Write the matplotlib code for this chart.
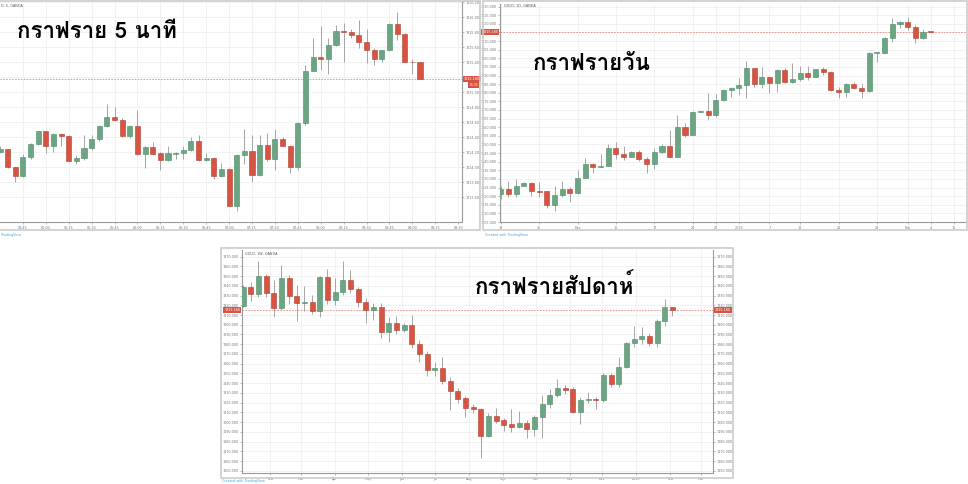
import numpy as np
import pandas as pd
import matplotlib
matplotlib.use('Agg')
from matplotlib import pyplot as plt
from matplotlib import font_manager as fm
from matplotlib.ft2font import FT2Font
from matplotlib.patches import Rectangle
from matplotlib.transforms import blended_transform_factory

# ---- 5 minute chart (GOLD, 5, OANDA) ----
m5_start = '2019-02-05 04:30'
m5_open = [1314.21, 1314.24, 1314.00, 1313.88, 1314.14, 1314.31, 1314.48, 1314.28, 1314.45, 1314.42,
           1314.08, 1314.13, 1314.26, 1314.38, 1314.55, 1314.67, 1314.63, 1314.42, 1314.55, 1314.18,
           1314.27, 1314.19, 1314.10, 1314.18, 1314.19, 1314.23, 1314.35, 1314.10, 1314.13, 1313.88,
           1313.98, 1313.49, 1314.16, 1314.22, 1313.90, 1314.30, 1314.11, 1314.38, 1314.29, 1314.01,
           1314.59, 1315.29, 1315.47, 1315.45, 1315.63, 1315.82, 1315.80, 1315.76, 1315.67, 1315.57,
           1315.44, 1315.56, 1315.91, 1315.78, 1315.41, 1315.40]
m5_high = [1314.28, 1314.25, 1314.01, 1314.18, 1314.32, 1314.48, 1314.48, 1314.46, 1314.46, 1314.43,
           1314.16, 1314.43, 1314.43, 1314.56, 1314.84, 1314.80, 1314.66, 1314.56, 1314.77, 1314.29,
           1314.34, 1314.21, 1314.28, 1314.20, 1314.28, 1314.40, 1314.43, 1314.19, 1314.14, 1314.06,
           1313.99, 1314.18, 1314.51, 1314.43, 1314.43, 1314.46, 1314.51, 1314.40, 1314.30, 1314.60,
           1315.36, 1315.73, 1315.89, 1315.73, 1315.90, 1315.93, 1315.85, 1315.96, 1315.85, 1315.59,
           1315.57, 1315.92, 1316.07, 1315.79, 1315.45, 1315.41]
m5_low = [1314.19, 1313.99, 1313.80, 1313.87, 1314.11, 1314.30, 1314.19, 1314.20, 1314.29, 1314.08,
          1314.05, 1314.10, 1314.23, 1314.35, 1314.54, 1314.62, 1314.41, 1314.39, 1314.16, 1313.99,
          1314.16, 1313.97, 1314.08, 1314.11, 1314.11, 1314.22, 1314.08, 1314.08, 1313.85, 1313.87,
          1313.48, 1313.42, 1314.04, 1313.81, 1313.88, 1314.09, 1313.96, 1314.28, 1313.93, 1313.97,
          1314.57, 1315.28, 1315.30, 1315.25, 1315.62, 1315.40, 1315.72, 1315.59, 1315.39, 1315.36,
          1315.40, 1315.55, 1315.70, 1315.40, 1315.25, 1315.18]
m5_close = [1314.24, 1314.00, 1313.88, 1314.14, 1314.31, 1314.48, 1314.28, 1314.45, 1314.42, 1314.08,
            1314.13, 1314.26, 1314.38, 1314.55, 1314.67, 1314.63, 1314.42, 1314.55, 1314.18, 1314.27,
            1314.18, 1314.10, 1314.19, 1314.19, 1314.23, 1314.35, 1314.10, 1314.13, 1313.88, 1313.98,
            1313.49, 1314.16, 1314.22, 1313.90, 1314.30, 1314.11, 1314.38, 1314.29, 1314.01, 1314.59,
            1315.29, 1315.47, 1315.45, 1315.63, 1315.82, 1315.80, 1315.76, 1315.67, 1315.57, 1315.44,
            1315.56, 1315.91, 1315.78, 1315.40, 1315.40, 1315.18]
m5_ticks = [1313.6, 1313.8, 1314.0, 1314.2, 1314.4, 1314.6, 1314.8, 1315.0, 1315.2, 1315.4,
            1315.6, 1315.8, 1316.0, 1316.2]

# ---- daily chart (GOLD, 1D, OANDA) ----
d_open = [1221.5, 1224.2, 1221.5, 1225.9, 1227.5, 1223.0, 1222.8, 1214.9, 1220.7, 1224.2,
          1221.7, 1230.8, 1238.7, 1237.2, 1237.7, 1248.0, 1244.5, 1242.8, 1245.9, 1241.8,
          1238.5, 1245.9, 1249.3, 1243.0, 1260.2, 1255.7, 1268.9, 1269.5, 1266.8, 1275.8,
          1281.5, 1282.6, 1284.5, 1294.2, 1285.1, 1289.0, 1285.5, 1293.4, 1286.5, 1287.8,
          1291.3, 1289.4, 1293.6, 1292.3, 1281.6, 1280.3, 1284.9, 1282.6, 1280.9, 1303.1,
          1303.3, 1311.6, 1319.9, 1321.3, 1318.0, 1312.0, 1315.3]
d_high = [1225.6, 1228.8, 1229.8, 1228.1, 1228.5, 1228.1, 1222.9, 1226.1, 1228.8, 1225.2,
          1235.2, 1242.0, 1239.5, 1244.3, 1250.3, 1251.7, 1249.3, 1246.4, 1246.8, 1242.6,
          1248.2, 1250.1, 1258.4, 1267.1, 1262.7, 1269.7, 1269.5, 1279.7, 1279.3, 1282.0,
          1283.6, 1288.8, 1298.5, 1294.6, 1295.2, 1289.4, 1293.8, 1294.6, 1297.1, 1295.6,
          1295.6, 1293.6, 1295.2, 1292.7, 1283.2, 1285.5, 1286.5, 1285.1, 1303.9, 1303.9,
          1312.2, 1323.2, 1321.7, 1323.8, 1319.4, 1316.8, 1315.5]
d_low = [1218.2, 1219.7, 1219.7, 1225.6, 1220.3, 1219.4, 1213.0, 1211.4, 1219.7, 1216.8,
         1221.3, 1230.4, 1233.7, 1236.8, 1237.4, 1241.6, 1241.0, 1242.6, 1240.6, 1233.3,
         1235.8, 1244.9, 1242.0, 1242.6, 1254.2, 1255.5, 1268.7, 1264.2, 1266.2, 1275.5,
         1277.8, 1278.7, 1276.8, 1283.6, 1282.6, 1279.7, 1280.7, 1285.5, 1285.9, 1286.9,
         1287.4, 1289.0, 1290.3, 1281.3, 1276.8, 1277.8, 1282.0, 1277.2, 1280.5, 1298.1,
         1302.9, 1309.3, 1317.8, 1316.5, 1308.7, 1311.2, 1314.5]
d_close = [1224.2, 1221.5, 1225.9, 1227.5, 1223.0, 1222.6, 1214.9, 1220.7, 1224.2, 1221.7,
           1230.8, 1238.7, 1237.0, 1237.7, 1248.0, 1244.3, 1242.8, 1245.9, 1241.8, 1238.5,
           1245.9, 1249.3, 1243.0, 1260.2, 1255.7, 1269.1, 1269.3, 1266.8, 1275.8, 1281.5,
           1282.6, 1284.5, 1294.2, 1285.1, 1289.0, 1285.5, 1293.4, 1286.5, 1287.8, 1291.3,
           1289.4, 1293.6, 1291.9, 1281.6, 1280.3, 1284.9, 1282.6, 1280.9, 1302.9, 1303.5,
           1311.6, 1319.9, 1321.3, 1318.0, 1312.0, 1315.1, 1315.18]
d_tick_labels = ['19', '26', 'Dec', '10', '17', '24', '27', '2019', '7', '14', '21', '28', 'Feb', '4', '11']
d_tick_bars = [0, 5, 10, 15, 20, 25, 28, 31, 35, 39, 44, 49, 53, 56, 59]
d_price_ticks = list(range(1205, 1331, 5))

# ---- weekly chart (GOLD, 1W, OANDA) ----
w_start = '2018-01-07'
w_open = [1319.7, 1338.5, 1331.6, 1350.1, 1333.0, 1316.9, 1347.7, 1329.6, 1322.1, 1323.8,
          1314.5, 1348.8, 1325.5, 1333.4, 1346.0, 1336.4, 1323.8, 1315.2, 1318.6, 1293.0,
          1302.2, 1294.3, 1299.8, 1279.9, 1270.3, 1253.6, 1256.0, 1242.3, 1232.0, 1224.5,
          1215.2, 1213.2, 1185.8, 1206.6, 1202.2, 1197.7, 1195.3, 1199.5, 1192.9, 1204.9,
          1218.3, 1227.9, 1234.7, 1233.7, 1210.8, 1222.4, 1224.1, 1222.4, 1248.8, 1239.5,
          1256.3, 1281.6, 1285.4, 1288.1, 1281.6, 1303.6, 1318.3]
w_high = [1341.0, 1343.6, 1365.5, 1351.8, 1346.0, 1361.4, 1351.2, 1340.9, 1340.2, 1330.6,
          1350.5, 1357.0, 1347.7, 1365.5, 1356.0, 1339.2, 1327.2, 1322.1, 1322.1, 1308.4,
          1309.0, 1302.2, 1310.1, 1284.4, 1273.1, 1262.1, 1267.3, 1246.7, 1234.7, 1227.2,
          1218.3, 1214.9, 1209.0, 1214.9, 1203.9, 1213.2, 1211.8, 1202.2, 1207.3, 1227.9,
          1234.0, 1244.0, 1238.2, 1236.4, 1226.2, 1230.9, 1226.2, 1250.1, 1250.8, 1266.6,
          1282.7, 1298.8, 1297.4, 1291.2, 1306.0, 1326.5, 1318.6]
w_low = [1318.0, 1324.8, 1328.2, 1328.2, 1307.7, 1314.9, 1321.4, 1303.9, 1314.5, 1311.1,
         1308.4, 1321.4, 1320.3, 1330.6, 1333.0, 1317.9, 1302.2, 1304.9, 1286.1, 1282.7,
         1290.2, 1292.3, 1276.5, 1262.1, 1247.4, 1247.7, 1238.8, 1212.5, 1219.3, 1205.6,
         1209.0, 1162.8, 1185.1, 1198.8, 1191.2, 1190.2, 1193.6, 1183.4, 1186.1, 1184.0,
         1214.2, 1225.5, 1228.9, 1209.0, 1198.1, 1220.0, 1213.2, 1221.0, 1236.2, 1236.2,
         1255.3, 1277.5, 1280.3, 1278.2, 1277.5, 1298.8, 1309.4]
w_close = [1338.5, 1331.6, 1350.1, 1333.0, 1316.9, 1347.7, 1329.6, 1322.1, 1323.8, 1314.5,
           1348.8, 1325.5, 1333.4, 1346.0, 1336.4, 1323.8, 1315.2, 1318.6, 1293.0, 1302.2,
           1294.3, 1299.8, 1279.9, 1270.3, 1253.6, 1256.0, 1242.3, 1232.0, 1223.8, 1214.5,
           1213.2, 1185.8, 1206.6, 1201.5, 1197.1, 1195.3, 1199.5, 1192.9, 1204.9, 1218.3,
           1227.9, 1234.7, 1233.4, 1210.8, 1222.4, 1224.1, 1223.1, 1248.8, 1239.5, 1256.3,
           1281.6, 1285.1, 1288.1, 1281.6, 1303.6, 1317.9, 1315.18]
w_tick_dates = ['2018-02-01', '2018-03-01', '2018-04-01', '2018-05-01', '2018-06-01', '2018-07-01',
                '2018-08-01', '2018-09-01', '2018-10-01', '2018-11-01', '2018-12-01', '2019-01-01',
                '2019-02-01', '2019-03-01']
w_tick_labels = ['Feb', 'Mar', 'Apr', 'May', 'Jun', 'Jul', 'Aug', 'Sep', 'Oct', 'Nov', 'Dec', '2019', 'Feb', 'Mar']
w_price_ticks = list(range(1150, 1371, 10))

titles = ['กราฟราย 5 นาที', 'กราฟรายวัน', 'กราฟรายสัปดาห์']

UP, DOWN = '#6ba583', '#d75442'
UP_EDGE, DOWN_EDGE = '#4b8a64', '#b23e2f'
WICK = '#a5a5a5'
GRID = '#f0f0f0'
AXIS = '#9a9a9a'
LABEL = '#777777'
TICK_FS = 2.4
W, H = 968, 484


def thai_font():
    paths = sorted(fm.findSystemFonts(), key=lambda p: ('Bold' not in p, p))
    for p in paths:
        try:
            if 0x0E01 in FT2Font(p).get_charmap():
                return fm.FontProperties(fname=p, weight='bold')
        except Exception:
            pass
    return fm.FontProperties(family='DejaVu Sans', weight='bold')


def px_axes(fig, x0, y0, x1, y1):
    return fig.add_axes([x0 / W, 1 - y1 / H, (x1 - x0) / W, (y1 - y0) / H])


def box(fig, x0, y0, x1, y1):
    fig.add_artist(Rectangle((x0 / W, 1 - y1 / H), (x1 - x0) / W, (y1 - y0) / H,
                             transform=fig.transFigure, fill=False, ec='#cccccc', lw=1.2))


def candles(ax, x, o, h, l, c, w, min_h):
    o, h, l, c = map(np.asarray, (o, h, l, c))
    up = c >= o
    ax.vlines(x, l, h, color=WICK, lw=0.7, zorder=2)
    ax.bar(x, np.maximum(np.abs(c - o), min_h), w, np.minimum(o, c),
           color=np.where(up, UP, DOWN), edgecolor=np.where(up, UP_EDGE, DOWN_EDGE),
           lw=0.4, zorder=3)


def style(ax, side):
    ax.set_facecolor('white')
    for s in ax.spines.values():
        s.set_visible(False)
    ax.spines['bottom'].set_visible(True)
    ax.spines['bottom'].set_color(AXIS)
    for sd in side:
        ax.spines[sd].set_visible(True)
        ax.spines[sd].set_color(AXIS)
    ax.grid(True, color=GRID, lw=0.6, zorder=0)
    ax.set_axisbelow(True)
    ax.tick_params(axis='both', labelsize=TICK_FS, colors=AXIS, labelcolor=LABEL,
                   length=1.5, width=0.5, pad=1.2)
    ax.tick_params(axis='y', left='left' in side, labelleft='left' in side,
                   right='right' in side, labelright='right' in side)


def price_line(ax, price, sides):
    ax.axhline(price, color='#e98a7e', lw=0.6, ls=(0, (2, 1.5)), zorder=1)
    tr = blended_transform_factory(ax.transAxes, ax.transData)
    for sd in sides:
        xx, ha = (1.004, 'left') if sd == 'right' else (-0.004, 'right')
        ax.text(xx, price, f'{price:.3f}', transform=tr, ha=ha, va='center', fontsize=TICK_FS,
                color='white', clip_on=False, zorder=10,
                bbox=dict(boxstyle='square,pad=0.4', fc=DOWN, ec=DOWN, lw=0))


fig = plt.figure(figsize=(W / 100, H / 100), dpi=100)
fig.patch.set_facecolor('white')
tfont = thai_font()

# panel borders
box(fig, -2, 0.5, 480, 230)
box(fig, 483, 0.5, 967, 230)
box(fig, 221, 248, 733, 478)

# 5 minute
ax1 = px_axes(fig, 0, 1, 462, 222)
x1 = np.arange(len(m5_close))
times = pd.date_range(m5_start, periods=61, freq='5min')
candles(ax1, x1, m5_open, m5_high, m5_low, m5_close, 0.66, 0.012)
ax1.set_xlim(0, 60.5)
ax1.set_ylim(1313.27, 1316.22)
style(ax1, ['right'])
ax1.set_yticks(m5_ticks)
ax1.set_yticklabels([f'{v:.3f}' for v in m5_ticks])
ax1.set_xticks(np.arange(3, 61, 3))
ax1.set_xticklabels([t.strftime('%H:%M') for t in times[3::3]])
price_line(ax1, m5_close[-1], ['right'])
ax1.text(1.016, m5_close[-1] - 0.085, '01:35',
         transform=blended_transform_factory(ax1.transAxes, ax1.transData),
         ha='left', va='center', fontsize=2.2, color='white', clip_on=False, zorder=10,
         bbox=dict(boxstyle='square,pad=0.35', fc=DOWN, ec=DOWN, lw=0))

# daily
ax2 = px_axes(fig, 500, 4, 966, 222)
x2 = np.arange(len(d_close))
candles(ax2, x2, d_open, d_high, d_low, d_close, 0.66, 0.5)
ax2.set_xlim(-0.1, 60.6)
ax2.set_ylim(1205.0, 1331.5)
style(ax2, ['left'])
ax2.set_yticks(d_price_ticks)
ax2.set_yticklabels([f'{v:.3f}' for v in d_price_ticks])
ax2.set_xticks(d_tick_bars)
ax2.set_xticklabels(d_tick_labels)
price_line(ax2, d_close[-1], ['left'])

# weekly
ax3 = px_axes(fig, 242, 250, 713, 473)
wdates = pd.date_range(w_start, periods=len(w_close), freq='7D')
x3 = matplotlib.dates.date2num(wdates)
candles(ax3, x3, w_open, w_high, w_low, w_close, 7 * 0.66, 1.0)
ax3.set_xlim(matplotlib.dates.date2num(pd.Timestamp('2018-01-06')),
             matplotlib.dates.date2num(pd.Timestamp('2019-03-12')))
ax3.set_ylim(1147.7, 1376.8)
style(ax3, ['left', 'right'])
ax3.set_yticks(w_price_ticks)
ax3.set_yticklabels([f'{v:.3f}' for v in w_price_ticks])
ax3.set_xticks(matplotlib.dates.date2num(pd.to_datetime(w_tick_dates)))
ax3.set_xticklabels(w_tick_labels)
price_line(ax3, w_close[-1], ['left', 'right'])

# header texts
fig.text(1 / W, 1 - 6 / H, 'D, 5, OANDA', fontsize=TICK_FS, color='#555555', va='center')
fig.text(504 / W, 1 - 6 / H, 'GOLD, 1D, OANDA', fontsize=TICK_FS, color='#555555', va='center')
fig.text(245 / W, 1 - 254 / H, 'GOLD, 1W, OANDA', fontsize=TICK_FS, color='#555555', va='center')
fig.text(1 / W, 1 - 235 / H, 'TradingView', fontsize=TICK_FS, color='#4aa3df', va='center')
fig.text(485 / W, 1 - 235 / H, 'Created with TradingView', fontsize=TICK_FS, color='#4aa3df', va='center')
fig.text(222 / W, 1 - 481 / H, 'Created with TradingView', fontsize=TICK_FS, color='#4aa3df', va='center')

# thai titles
fig.text(17 / W, 1 - 32 / H, titles[0], fontproperties=tfont, fontsize=16, color='black', va='center')
fig.text(533 / W, 1 - 64 / H, titles[1], fontproperties=tfont, fontsize=16, color='black', va='center')
fig.text(475 / W, 1 - 286 / H, titles[2], fontproperties=tfont, fontsize=16, color='black', va='center')

fig.savefig('out.png', dpi=100, facecolor='white')
